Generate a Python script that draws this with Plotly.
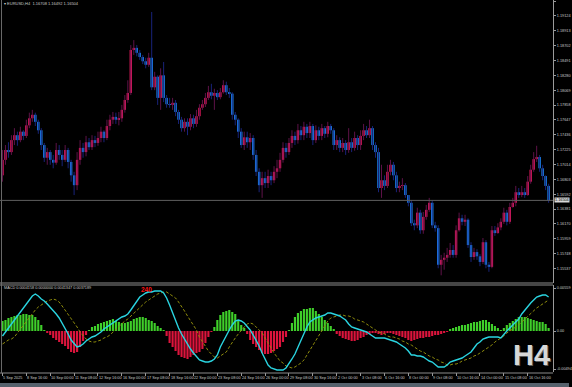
import plotly.graph_objects as go

# ---------------- data ----------------
open0 = 1.1686
close = [1.1708,1.1722,1.1719,1.1736,1.1743,1.1736,1.1748,1.1742,1.1757,1.1767,
         1.1772,1.1762,1.1750,1.1729,1.1711,1.1719,1.1708,1.1704,1.1722,1.1715,
         1.1708,1.1722,1.1705,1.1686,1.1672,1.1708,1.1725,1.1719,1.1733,1.1726,
         1.1736,1.1732,1.1739,1.1748,1.1739,1.1756,1.1765,1.1769,1.1765,1.1767,
         1.1779,1.1793,1.1803,1.1864,1.1867,1.1860,1.1854,1.1848,1.1843,1.1853,
         1.1811,1.1826,1.1796,1.1828,1.1796,1.1787,1.1786,1.1789,1.1776,1.1765,
         1.1753,1.1762,1.1755,1.1767,1.1759,1.1770,1.1782,1.1787,1.1796,1.1804,
         1.1799,1.1803,1.1797,1.1804,1.1814,1.1804,1.1802,1.1772,1.1765,1.1748,
         1.1729,1.1740,1.1733,1.1739,1.1715,1.1691,1.1672,1.1682,1.1675,1.1685,
         1.1679,1.1691,1.1696,1.1708,1.1725,1.1719,1.1732,1.1742,1.1736,1.1750,
         1.1743,1.1755,1.1746,1.1756,1.1736,1.1750,1.1742,1.1753,1.1745,1.1756,
         1.1750,1.1729,1.1736,1.1725,1.1732,1.1722,1.1733,1.1725,1.1739,1.1729,
         1.1742,1.1750,1.1743,1.1753,1.1729,1.1719,1.1668,1.1679,1.1671,1.1691,
         1.1701,1.1686,1.1668,1.1671,1.1672,1.1658,1.1647,1.1618,1.1615,1.1633,
         1.1608,1.1627,1.1637,1.1647,1.1615,1.1611,1.1559,1.1566,1.1569,1.1573,
         1.1580,1.1573,1.1608,1.1625,1.1620,1.1623,1.1587,1.1570,1.1577,1.1571,
         1.1563,1.1591,1.1559,1.1556,1.1608,1.1604,1.1612,1.1620,1.1633,1.1620,
         1.1641,1.1647,1.1662,1.1658,1.1662,1.1658,1.1677,1.1694,1.1709,1.1712,
         1.1696,1.1685,1.1671,1.16504]
high = [1.1722,1.1729,1.1733,1.1743,1.1753,1.1748,1.1755,1.1750,1.1765,1.1775,
        1.1779,1.1775,1.1765,1.1753,1.1732,1.1725,1.1722,1.1715,1.1732,1.1729,
        1.1722,1.1729,1.1725,1.1708,1.1691,1.1719,1.1736,1.1732,1.1742,1.1739,
        1.1743,1.1742,1.1748,1.1755,1.1750,1.1765,1.1772,1.1776,1.1775,1.1776,
        1.1786,1.1800,1.1821,1.1871,1.1878,1.1871,1.1864,1.1857,1.1853,1.1860,
        1.1918,1.1833,1.1828,1.1838,1.1847,1.1800,1.1796,1.1796,1.1793,1.1779,
        1.1769,1.1767,1.1767,1.1773,1.1772,1.1779,1.1787,1.1793,1.1803,1.1813,
        1.1816,1.1809,1.1807,1.1810,1.1821,1.1819,1.1810,1.1804,1.1776,1.1767,
        1.1753,1.1748,1.1748,1.1746,1.1743,1.1722,1.1696,1.1691,1.1691,1.1694,
        1.1691,1.1699,1.1708,1.1718,1.1733,1.1732,1.1739,1.1750,1.1748,1.1759,
        1.1756,1.1762,1.1759,1.1762,1.1759,1.1757,1.1755,1.1759,1.1756,1.1762,
        1.1759,1.1753,1.1743,1.1740,1.1739,1.1736,1.1753,1.1739,1.1748,1.1743,
        1.1750,1.1759,1.1756,1.1765,1.1756,1.1733,1.1725,1.1701,1.1686,1.1701,
        1.1708,1.1705,1.1691,1.1677,1.1682,1.1675,1.1658,1.1651,1.1623,1.1640,
        1.1637,1.1634,1.1644,1.1654,1.1651,1.1620,1.1615,1.1573,1.1576,1.1583,
        1.1590,1.1587,1.1615,1.1633,1.1630,1.1630,1.1625,1.1591,1.1583,1.1581,
        1.1574,1.1597,1.1594,1.1563,1.1614,1.1614,1.1618,1.1625,1.1640,1.1637,
        1.1647,1.1654,1.1671,1.1668,1.1671,1.1668,1.1685,1.1701,1.1719,1.1728,
        1.1715,1.1701,1.1686,1.1674]
low = [1.1677,1.1701,1.1711,1.1715,1.1729,1.1728,1.1733,1.1736,1.1739,1.1753,
       1.1762,1.1756,1.1745,1.1722,1.1705,1.1701,1.1701,1.1696,1.1701,1.1708,
       1.1699,1.1705,1.1696,1.1677,1.1658,1.1665,1.1701,1.1711,1.1713,1.1722,
       1.1722,1.1726,1.1728,1.1733,1.1733,1.1736,1.1750,1.1759,1.1759,1.1757,
       1.1762,1.1775,1.1789,1.1800,1.1857,1.1855,1.1850,1.1844,1.1838,1.1840,
       1.1807,1.1807,1.1786,1.1779,1.1790,1.1782,1.1782,1.1779,1.1770,1.1759,
       1.1748,1.1748,1.1743,1.1750,1.1753,1.1755,1.1765,1.1779,1.1783,1.1793,
       1.1794,1.1779,1.1793,1.1794,1.1802,1.1800,1.1796,1.1765,1.1757,1.1739,
       1.1725,1.1722,1.1725,1.1722,1.1708,1.1685,1.1662,1.1654,1.1668,1.1668,
       1.1672,1.1675,1.1682,1.1691,1.1704,1.1711,1.1715,1.1725,1.1729,1.1731,
       1.1736,1.1736,1.1739,1.1739,1.1729,1.1732,1.1736,1.1736,1.1739,1.1740,
       1.1745,1.1722,1.1722,1.1719,1.1719,1.1715,1.1718,1.1719,1.1721,1.1722,
       1.1722,1.1736,1.1739,1.1739,1.1722,1.1711,1.1662,1.1654,1.1665,1.1668,
       1.1686,1.1679,1.1662,1.1662,1.1665,1.1654,1.1642,1.1614,1.1608,1.1611,
       1.1603,1.1603,1.1623,1.1634,1.1611,1.1606,1.1554,1.1544,1.1552,1.1563,
       1.1569,1.1569,1.1569,1.1606,1.1615,1.1614,1.1583,1.1563,1.1566,1.1566,
       1.1557,1.1560,1.1554,1.1549,1.1554,1.1600,1.1603,1.1608,1.1617,1.1615,
       1.1617,1.1640,1.1642,1.1654,1.1655,1.1654,1.1657,1.1674,1.1691,1.1705,
       1.1691,1.1679,1.1665,1.1647]

# MACD panel values in points (1e-5)
macd_main_pts = [-65,-13,39,78,130,182,247,299,351,403,455,481,455,416,390,351,312,273,221,169,
                 104,39,-39,-117,-169,-208,-195,-169,-130,-104,-78,-65,-39,-13,26,52,78,104,130,156,
                 182,195,221,273,325,390,442,468,494,507,507,520,520,520,494,429,338,234,143,39,
                 -39,-104,-182,-234,-286,-338,-377,-390,-403,-403,-390,-364,-312,-208,-130,-52,13,78,130,143,
                 130,104,65,13,-52,-117,-195,-286,-364,-442,-481,-494,-507,-507,-507,-481,-429,-364,-299,-208,
                 -117,-26,52,117,143,169,182,195,208,234,234,221,208,195,169,143,91,52,39,26,
                 13,0,-13,-39,-65,-91,-91,-91,-91,-104,-117,-130,-143,-169,-195,-221,-260,-312,-312,-325,
                 -325,-338,-364,-390,-403,-442,-468,-468,-468,-442,-403,-390,-377,-364,-351,-325,-299,-273,-221,-169,
                 -143,-104,-91,-78,-78,-78,-78,-91,-39,0,39,78,117,156,221,273,325,364,403,442,
                 455,468,468,442]
macd_signal_pts = [-169,-143,-117,-104,-78,-26,26,78,130,169,221,273,312,338,364,390,403,416,403,377,
                   325,273,221,169,104,52,-13,-65,-104,-130,-143,-143,-130,-117,-91,-78,-52,-13,13,52,
                   91,130,156,195,234,273,312,338,377,403,429,455,481,494,507,507,481,455,429,377,
                   325,260,195,130,65,13,-78,-143,-208,-260,-299,-338,-351,-325,-299,-273,-208,-143,-91,-39,
                   13,52,91,104,91,52,13,-26,-91,-156,-234,-286,-338,-390,-416,-455,-468,-481,-468,-442,
                   -416,-377,-312,-247,-182,-117,-52,13,78,130,169,182,195,208,208,195,195,182,156,143,
                   130,117,91,65,39,13,-13,-26,-39,-65,-78,-78,-91,-104,-130,-143,-169,-182,-208,-234,
                   -260,-273,-299,-325,-338,-364,-377,-403,-416,-442,-442,-429,-429,-416,-390,-377,-364,-351,-325,-312,
                   -286,-260,-234,-208,-182,-143,-117,-91,-65,-26,0,26,52,78,117,156,195,234,260,299,
                   325,351,377,403]
macd_hist_pts = [130,143,169,182,195,208,208,221,221,208,208,182,143,78,13,-26,-52,-91,-117,-143,
                 -169,-195,-234,-273,-286,-273,-208,-130,-52,13,52,65,91,104,117,130,143,156,130,117,
                 104,104,117,130,156,169,182,182,169,143,130,104,65,39,13,-65,-156,-208,-260,-312,
                 -338,-351,-364,-338,-312,-286,-273,-234,-156,-78,-13,52,143,208,247,260,273,247,221,143,
                 78,39,-39,-117,-169,-208,-247,-286,-299,-299,-286,-260,-234,-208,-143,-78,13,104,182,234,
                 260,286,286,299,299,260,221,182,143,104,65,26,-39,-65,-91,-104,-117,-130,-130,-117,
                 -91,-78,-52,-39,-26,-26,-39,-52,-39,-26,-26,-39,-52,-65,-78,-91,-117,-130,-117,-104,
                 -91,-91,-78,-78,-65,-52,-52,-39,-26,-13,26,39,52,65,78,78,91,104,117,117,
                 130,143,143,117,91,65,39,13,39,78,104,130,156,182,182,182,169,156,143,130,
                 117,117,91,39]

time_labels = ["5 Sep 2025","8 Sep 16:00","10 Sep 00:00","11 Sep 08:00","12 Sep 16:00",
               "16 Sep 00:00","17 Sep 08:00","18 Sep 16:00","22 Sep 00:00","23 Sep 08:00",
               "24 Sep 16:00","26 Sep 00:00","29 Sep 08:00","30 Sep 16:00","2 Oct 00:00",
               "3 Oct 08:00","6 Oct 16:00","8 Oct 00:00","9 Oct 08:00","10 Oct 16:00",
               "14 Oct 00:00","15 Oct 08:00","16 Oct 16:00"]
label_bars = [0,8,16,24,32,40,48,56,64,72,80,88,96,104,112,120,128,136,144,152,160,168,176]
price_ticks = [1.19335,1.19124,1.18913,1.18702,1.18491,1.18280,1.18069,1.17858,1.17647,1.17436,
               1.17225,1.17014,1.16803,1.16592,1.16381,1.16170,1.15959,1.15748,1.15537,1.15326]
macd_ticks = [0.00559, 0.0, -0.00494]
macd_tick_text = ["0.00559", "0.00", "-0.00494"]
title_text = "EURUSD,H4  1.16708 1.16492 1.16504"
macd_text = "MACD 0.0004158 0.0000000 0.0041347 0.0037189"

# ---------------- derived ----------------
n = len(close)
idx = list(range(n))
opens = [open0] + close[:-1]
SC = 1e-5
macd_main = [v * SC for v in macd_main_pts]
macd_signal = [v * SC for v in macd_signal_pts]
macd_hist = [v * SC for v in macd_hist_pts]

UP_BODY, DN_BODY = "#ec1a60", "#1e90ff"
UP_WICK, DN_WICK = "#5e1248", "#18237a"

W, H = 572, 387
def py(px):  # pixel row -> paper y
    return (H - px) / H
XR = 556 / W
FONT = "Liberation Sans, Arial"

fig = go.Figure()

# wicks
for up, col in ((True, UP_WICK), (False, DN_WICK)):
    xs, ys = [], []
    for i in idx:
        if (close[i] >= opens[i]) == up:
            xs += [i, i, None]
            ys += [low[i], high[i], None]
    fig.add_trace(go.Scatter(x=xs, y=ys, mode="lines", line=dict(color=col, width=1),
                             hoverinfo="skip", xaxis="x", yaxis="y"))

# bodies
bases = [min(o, c) for o, c in zip(opens, close)]
heights = [max(abs(c - o), 0.00005) for o, c in zip(opens, close)]
bcol = [UP_BODY if c >= o else DN_BODY for o, c in zip(opens, close)]
fig.add_trace(go.Bar(x=idx, y=heights, base=bases, width=0.8,
                     marker=dict(color=bcol, line=dict(width=0)),
                     xaxis="x", yaxis="y", hoverinfo="skip"))

# MACD histogram
hcol = ["#3fcf2a" if v >= 0 else "#dc143c" for v in macd_hist]
fig.add_trace(go.Bar(x=idx, y=macd_hist, width=0.72,
                     marker=dict(color=hcol, line=dict(width=0)),
                     xaxis="x2", yaxis="y2", hoverinfo="skip"))
fig.add_trace(go.Scatter(x=idx, y=macd_signal, mode="lines",
                         line=dict(color="#8f8c0c", width=1, dash="3px,2px"),
                         xaxis="x2", yaxis="y2", hoverinfo="skip"))
fig.add_trace(go.Scatter(x=idx, y=macd_main, mode="lines",
                         line=dict(color="#2ad4e0", width=1.4),
                         xaxis="x2", yaxis="y2", hoverinfo="skip"))

xr = [-0.83, 184.5]
tickfont = dict(family=FONT, size=3.8, color="#c8c8c8")
fig.update_layout(
    width=W, height=H, margin=dict(l=0, r=0, t=0, b=0),
    paper_bgcolor="#000000", plot_bgcolor="#000000",
    showlegend=False, barmode="overlay",
    xaxis=dict(domain=[0, XR], range=xr, showticklabels=False, showgrid=False,
               zeroline=False, anchor="y", fixedrange=True),
    xaxis2=dict(domain=[0, XR], range=xr, showticklabels=False, showgrid=False,
                zeroline=False, anchor="y2", ticks="outside", ticklen=3,
                tickcolor="#9a9a9a", tickvals=label_bars, matches="x"),
    yaxis=dict(domain=[py(283), 1], range=[1.15331, 1.1935], side="right",
               tickvals=price_ticks, ticktext=[f"{v:.5f}" for v in price_ticks],
               ticks="outside", ticklen=2, tickcolor="#9a9a9a", tickfont=tickfont,
               showgrid=False, zeroline=False, showline=True, linecolor="#9a9a9a",
               linewidth=1, anchor="x"),
    yaxis2=dict(domain=[py(372), py(285)], range=[-0.00533, 0.00598], side="right",
                tickvals=macd_ticks, ticktext=macd_tick_text,
                ticks="outside", ticklen=2, tickcolor="#9a9a9a", tickfont=tickfont,
                showgrid=False, zeroline=False, showline=True, linecolor="#9a9a9a",
                linewidth=1, anchor="x2"),
)

shapes = []
for yy in (283, 285, 373):
    shapes.append(dict(type="line", xref="paper", yref="paper", x0=0, x1=XR,
                       y0=py(yy), y1=py(yy), line=dict(color="#8a8a8a", width=1)))
shapes.append(dict(type="line", xref="paper", yref="paper", x0=1.5 / W, x1=1.5 / W,
                   y0=py(373), y1=1, line=dict(color="#6a6a6a", width=1)))
shapes.append(dict(type="rect", xref="paper", yref="paper", x0=0, x1=1, y0=0, y1=py(383),
                   fillcolor="#56616c", line=dict(width=0)))
shapes.append(dict(type="line", xref="x", yref="y", x0=xr[0], x1=xr[1],
                   y0=close[-1], y1=close[-1], line=dict(color="#5e5e5e", width=1)))
fig.update_layout(shapes=shapes)

ann = []
for b, t in zip(label_bars, time_labels):
    ann.append(dict(x=b, y=py(378), xref="x2", yref="paper", text=t, showarrow=False,
                    xanchor="left", yanchor="middle", font=tickfont, xshift=-1))
ann.append(dict(x=2 / W, y=py(3), xref="paper", yref="paper", text="\u25BE " + title_text,
                showarrow=False, xanchor="left", yanchor="middle",
                font=dict(family=FONT, size=4, color="#c8c8c8")))
ann.append(dict(x=2 / W, y=py(288), xref="paper", yref="paper", text=macd_text,
                showarrow=False, xanchor="left", yanchor="middle", font=tickfont))
ann.append(dict(x=147 / W, y=py(289), xref="paper", yref="paper", text="<b>240</b>",
                showarrow=False, xanchor="center", yanchor="middle",
                font=dict(family=FONT, size=6.5, color="#ff1010")))
ann.append(dict(x=564.5 / W, y=close[-1], xref="paper", yref="y", text=f"{close[-1]:.5f}",
                showarrow=False, xanchor="center", yanchor="middle", bgcolor="#d8d8d8",
                font=dict(family=FONT, size=3.8, color="#000000"), borderpad=0))
# "H4" period watermark with a soft shadow
ann.append(dict(x=534 / W, y=py(355), xref="paper", yref="paper", text="<b>H4</b>",
                showarrow=False, xanchor="center", yanchor="middle", xshift=1, yshift=-1,
                font=dict(family=FONT, size=29, color="#5a5a5a")))
ann.append(dict(x=534 / W, y=py(355), xref="paper", yref="paper", text="<b>H4</b>",
                showarrow=False, xanchor="center", yanchor="middle",
                font=dict(family=FONT, size=29, color="#d8d8d8")))
fig.update_layout(annotations=ann)

fig.write_html("out.html", config={"displayModeBar": False},
               post_script="document.body.style.margin='0px';document.body.style.overflow='hidden';")
